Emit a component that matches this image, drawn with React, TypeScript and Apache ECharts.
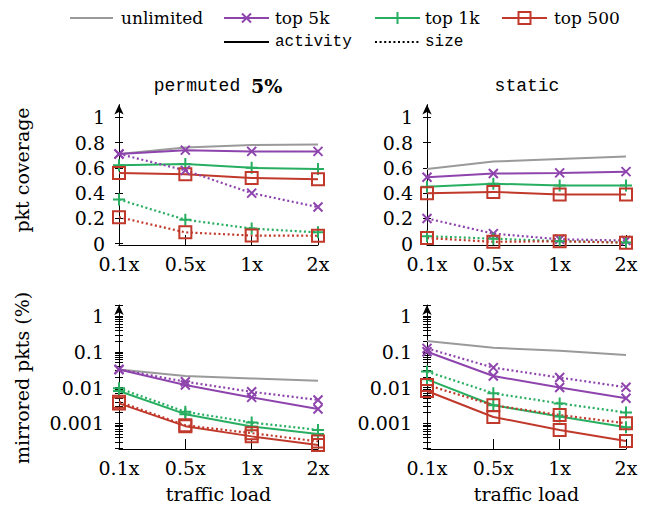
import React, { useEffect, useRef } from "react";
import * as echarts from "echarts";

const CATEGORIES = ["0.1x", "0.5x", "1x", "2x"];

// pkt coverage, permuted 5%
const PERM_COV_UNLIMITED = [0.71, 0.76, 0.78, 0.785];
const PERM_COV_5K_ACT = [0.71, 0.74, 0.73, 0.73];
const PERM_COV_5K_SIZE = [0.71, 0.58, 0.4, 0.29];
const PERM_COV_1K_ACT = [0.62, 0.63, 0.6, 0.59];
const PERM_COV_1K_SIZE = [0.35, 0.19, 0.12, 0.09];
const PERM_COV_500_ACT = [0.56, 0.55, 0.52, 0.51];
const PERM_COV_500_SIZE = [0.21, 0.09, 0.065, 0.063];

// pkt coverage, static
const STAT_COV_UNLIMITED = [0.59, 0.65, 0.67, 0.69];
const STAT_COV_5K_ACT = [0.525, 0.555, 0.56, 0.57];
const STAT_COV_5K_SIZE = [0.2, 0.08, 0.035, 0.025];
const STAT_COV_1K_ACT = [0.45, 0.475, 0.46, 0.46];
const STAT_COV_1K_SIZE = [0.06, 0.04, 0.02, 0.01];
const STAT_COV_500_ACT = [0.4, 0.41, 0.39, 0.39];
const STAT_COV_500_SIZE = [0.045, 0.015, 0.02, 0.008];

// mirrored pkts (%), permuted 5%
const PERM_MIR_UNLIMITED = [0.032, 0.021, 0.018, 0.0155];
const PERM_MIR_5K_ACT = [0.032, 0.0118, 0.0053, 0.0025];
const PERM_MIR_5K_SIZE = [0.032, 0.0146, 0.0076, 0.0045];
const PERM_MIR_1K_ACT = [0.008, 0.0018, 0.00081, 0.0005];
const PERM_MIR_1K_SIZE = [0.0095, 0.0021, 0.00105, 0.00065];
const PERM_MIR_500_ACT = [0.0036, 0.00083, 0.00043, 0.000247];
const PERM_MIR_500_SIZE = [0.004, 0.00088, 0.00053, 0.00031];

// mirrored pkts (%), static
const STAT_MIR_UNLIMITED = [0.2, 0.13, 0.107, 0.081];
const STAT_MIR_5K_ACT = [0.1, 0.021, 0.01, 0.005];
const STAT_MIR_5K_SIZE = [0.125, 0.036, 0.019, 0.0102];
const STAT_MIR_1K_ACT = [0.017, 0.0032, 0.00154, 0.00077];
const STAT_MIR_1K_SIZE = [0.028, 0.0069, 0.0036, 0.002];
const STAT_MIR_500_ACT = [0.008, 0.0015, 0.00065, 0.00032];
const STAT_MIR_500_SIZE = [0.0118, 0.0032, 0.0017, 0.001];

const LIN_TICKS = [0, 0.2, 0.4, 0.6, 0.8, 1];
const LOG_TICK_LABELS = ["0.001", "0.01", "0.1", "1"];
const LOG_MAJOR = [-3, -2, -1, 0];

const SERIES_NAMES = ["unlimited", "top 5k", "top 1k", "top 500"];
const TITLES = ["permuted 5%", "static"];

const GRAY = "#9a9a9a";
const PURPLE = "#8e44ad";
const GREEN = "#27ae60";
const RED = "#c0392b";

const SERIF = "DejaVu Serif";
const MONO = "Liberation Mono";

const CROSS = "path://M0,0L10,10M10,0L0,10";
const PLUS = "path://M5,0L5,10M0,5L10,5";

const LOG_MIN = -3.72;
const LOG_MAX = 0.31;

function logTicks(): number[] {
  const out: number[] = [];
  for (let d = -4; d <= 0; d++) {
    for (let k = 1; k <= 9; k++) {
      const v = Math.log10(k) + d;
      if (v >= LOG_MIN && v <= LOG_MAX) out.push(v);
    }
  }
  return out;
}

export default function App() {
  const ref = useRef<HTMLDivElement>(null);
  useEffect(() => {
    if (!ref.current) return;
    const chart = echarts.init(ref.current, null, { renderer: "svg" });

    const panels = [
      { log: false, d: [PERM_COV_UNLIMITED, PERM_COV_5K_ACT, PERM_COV_5K_SIZE, PERM_COV_1K_ACT, PERM_COV_1K_SIZE, PERM_COV_500_ACT, PERM_COV_500_SIZE] },
      { log: false, d: [STAT_COV_UNLIMITED, STAT_COV_5K_ACT, STAT_COV_5K_SIZE, STAT_COV_1K_ACT, STAT_COV_1K_SIZE, STAT_COV_500_ACT, STAT_COV_500_SIZE] },
      { log: true, d: [PERM_MIR_UNLIMITED, PERM_MIR_5K_ACT, PERM_MIR_5K_SIZE, PERM_MIR_1K_ACT, PERM_MIR_1K_SIZE, PERM_MIR_500_ACT, PERM_MIR_500_SIZE] },
      { log: true, d: [STAT_MIR_UNLIMITED, STAT_MIR_5K_ACT, STAT_MIR_5K_SIZE, STAT_MIR_1K_ACT, STAT_MIR_1K_SIZE, STAT_MIR_500_ACT, STAT_MIR_500_SIZE] },
    ];

    const grids = [
      { left: 119, top: 104.6, width: 199, height: 140.4 },
      { left: 427, top: 104.6, width: 199, height: 140.4 },
      { left: 119, top: 305, width: 199, height: 144 },
      { left: 427, top: 305, width: 199, height: 144 },
    ].map((g) => ({ ...g, outerBoundsMode: "none", containLabel: false }));

    const FS = 19;
    const LFS = 17;
    const axisFont = { fontFamily: SERIF, fontSize: FS, color: "#000" };

    const xAxes = grids.map((_, i) => ({
      type: "category",
      gridIndex: i,
      position: "bottom",
      data: CATEGORIES,
      boundaryGap: false,
      axisLine: { onZero: false, lineStyle: { color: "#000", width: 1 } },
      axisTick: { inside: true, length: 10, lineStyle: { color: "#000", width: 1 } },
      axisLabel: { ...axisFont, margin: 9 },
      splitLine: { show: false },
      name: i >= 2 ? "traffic load" : "",
      nameLocation: "middle",
      nameGap: 35,
      nameTextStyle: { ...axisFont },
    }));

    const LOGT = logTicks();
    const yAxes: any[] = [];
    panels.forEach((p, i) => {
      const min = p.log ? LOG_MIN : -0.01;
      const max = p.log ? LOG_MAX : 1.1;
      const tickVals = p.log ? LOGT : LIN_TICKS;
      const labelVals = p.log ? LOG_MAJOR : LIN_TICKS;
      yAxes.push({
        type: "value",
        gridIndex: i,
        position: "left",
        min,
        max,
        axisLine: {
          show: true,
          onZero: false,
          symbol: ["none", "arrow"],
          symbolSize: [7, 10],
          lineStyle: { color: "#000", width: 1 },
        },
        axisTick: { show: true, length: 4, customValues: tickVals, lineStyle: { color: "#000", width: 1 } },
        axisLabel: {
          ...axisFont,
          margin: p.log ? 15 : 14,
          customValues: labelVals,
          formatter: (v: number) =>
            p.log ? LOG_TICK_LABELS[Math.round(v) + 3] : String(Math.round(v * 10) / 10),
        },
        splitLine: { show: false },
      });
      yAxes.push({
        type: "value",
        gridIndex: i,
        position: "left",
        offset: 0,
        min,
        max,
        axisLine: { show: false, onZero: false },
        axisTick: { show: true, inside: true, length: 4, customValues: tickVals, lineStyle: { color: "#000", width: 1 } },
        axisLabel: { show: false },
        splitLine: { show: false },
      });
    });

    const styles = [
      { color: GRAY, dotted: false, symbol: "none", size: 0, fill: "none" },
      { color: PURPLE, dotted: false, symbol: CROSS, size: 9, fill: "none" },
      { color: PURPLE, dotted: true, symbol: CROSS, size: 9, fill: "none" },
      { color: GREEN, dotted: false, symbol: PLUS, size: 12, fill: "none" },
      { color: GREEN, dotted: true, symbol: PLUS, size: 12, fill: "none" },
      { color: RED, dotted: false, symbol: "rect", size: 12, fill: "rgba(0,0,0,0)" },
      { color: RED, dotted: true, symbol: "rect", size: 12, fill: "rgba(0,0,0,0)" },
    ];
    const seriesNameOf = [0, 1, 1, 2, 2, 3, 3];
    const order = [0, 1, 3, 5, 2, 4, 6];

    const series: any[] = [];
    panels.forEach((p, gi) => {
      order.forEach((k) => {
        const s = styles[k];
        series.push({
          type: "line",
          name: SERIES_NAMES[seriesNameOf[k]] + (s.dotted ? " size" : " activity"),
          xAxisIndex: gi,
          yAxisIndex: gi * 2,
          data: p.d[k].map((v) => (p.log ? Math.log10(v) : v)),
          showSymbol: s.symbol !== "none",
          symbol: s.symbol,
          symbolSize: s.size,
          lineStyle: {
            color: s.color,
            width: s.dotted ? 2.2 : 2,
            type: s.dotted ? [2, 2.6] : "solid",
          },
          itemStyle: { color: s.fill, borderColor: s.color, borderWidth: 2 },
          emphasis: { disabled: true },
          silent: true,
          z: 2,
        });
      });
    });

    const graphic: any[] = [];
    graphic.push({
      type: "text",
      x: 22,
      y: 170,
      rotation: Math.PI / 2,
      style: { text: "pkt coverage", fontFamily: SERIF, fontSize: FS, fill: "#000", textAlign: "center", textVerticalAlign: "middle" },
    });
    graphic.push({
      type: "text",
      x: 22,
      y: 378,
      rotation: Math.PI / 2,
      style: { text: "mirrored pkts (%)", fontFamily: SERIF, fontSize: FS, fill: "#000", textAlign: "center", textVerticalAlign: "middle" },
    });
    graphic.push({
      type: "text",
      x: 218,
      y: 86,
      style: {
        text: "{m|permuted }{b|5%}",
        textAlign: "center",
        textVerticalAlign: "middle",
        fill: "#000",
        rich: {
          m: { fontFamily: MONO, fontSize: 18, fill: "#000" },
          b: { fontFamily: SERIF, fontSize: FS, fontWeight: "bold", fill: "#000" },
        },
      },
    });
    graphic.push({
      type: "text",
      x: 527,
      y: 86,
      style: { text: TITLES[1], fontFamily: MONO, fontSize: 18, fill: "#000", textAlign: "center", textVerticalAlign: "middle" },
    });

    const L1 = 18;
    const L2 = 42;
    const legendLine = (x1: number, x2: number, y: number, color: string, dash?: number[]) => ({
      type: "line",
      shape: { x1, y1: y, x2, y2: y },
      style: { stroke: color, lineWidth: 2.2, lineDash: dash || null },
    });
    const legendText = (x: number, y: number, text: string, family: string, size: number) => ({
      type: "text",
      x,
      y,
      style: { text, fontFamily: family, fontSize: size, fill: "#000", textAlign: "left", textVerticalAlign: "middle" },
    });
    graphic.push(legendLine(70, 113, L1, GRAY));
    graphic.push(legendText(121, L1, SERIES_NAMES[0], SERIF, LFS));
    graphic.push(legendLine(224, 269, L1, PURPLE));
    graphic.push({ type: "line", shape: { x1: 242, y1: L1 - 4.5, x2: 251, y2: L1 + 4.5 }, style: { stroke: PURPLE, lineWidth: 2 } });
    graphic.push({ type: "line", shape: { x1: 251, y1: L1 - 4.5, x2: 242, y2: L1 + 4.5 }, style: { stroke: PURPLE, lineWidth: 2 } });
    graphic.push(legendText(275, L1, SERIES_NAMES[1], SERIF, LFS));
    graphic.push(legendLine(375, 420, L1, GREEN));
    graphic.push({ type: "line", shape: { x1: 397.5, y1: L1 - 6, x2: 397.5, y2: L1 + 6 }, style: { stroke: GREEN, lineWidth: 2 } });
    graphic.push(legendText(425, L1, SERIES_NAMES[2], SERIF, LFS));
    graphic.push(legendLine(502, 547, L1, RED));
    graphic.push({ type: "rect", shape: { x: 518.5, y: L1 - 6, width: 12, height: 12 }, style: { fill: "none", stroke: RED, lineWidth: 2 } });
    graphic.push(legendText(554, L1, SERIES_NAMES[3], SERIF, LFS));
    graphic.push(legendLine(224, 269, L2, "#000"));
    graphic.push(legendText(275, L2, "activity", MONO, 16));
    graphic.push(legendLine(375, 419, L2, "#000", [2, 2.6]));
    graphic.push(legendText(425, L2, "size", MONO, 16));

    chart.setOption({
      animation: false,
      backgroundColor: "#fff",
      textStyle: { fontFamily: SERIF },
      grid: grids,
      xAxis: xAxes,
      yAxis: yAxes,
      series,
      graphic,
    });
    return () => chart.dispose();
  }, []);
  return <div ref={ref} style={{ position: "absolute", left: 0, top: 0, width: 649, height: 506 }} />;
}
